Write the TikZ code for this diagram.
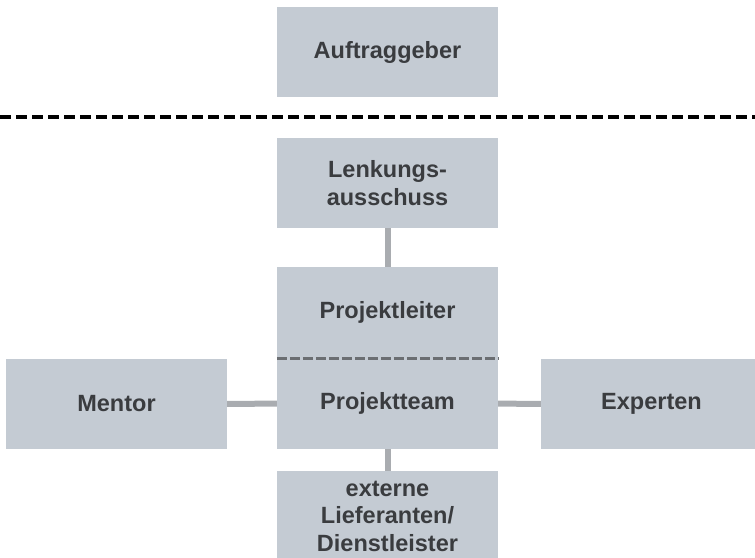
\documentclass[tikz,border=0pt]{standalone}
\usepackage{fontspec}
\setmainfont{Liberation Sans}
\definecolor{boxgray}{HTML}{C4CBD3}
\definecolor{textgray}{HTML}{3A3C3F}
\definecolor{linegray}{HTML}{A9ACB0}
\definecolor{dashgray}{HTML}{6B6E72}
\tikzset{
  box/.style={fill=boxgray, text=textgray, inner sep=0pt, minimum width=221pt,
    minimum height=90pt, text width=215pt, align=center,
    font=\bfseries\fontsize{23.5}{27.5}\selectfont},
  link/.style={draw=linegray, line width=6pt}
}
\begin{document}
\begin{tikzpicture}[x=1pt,y=-1pt]
  \useasboundingbox (0,0) rectangle (755,557);
  \begin{scope}
    \clip (0,0) rectangle (755,557);
    \node[box] (auftrag) at (387.5,52) {Auftraggeber};
    \node[box] (lenkung) at (387.5,183) {Lenkungs-\\ausschuss};
    \node[box, minimum height=91pt] (leiter) at (387.5,312.5) {Projektleiter};
    \node[box, minimum height=91pt] (team) at (387.5,403.5) {Projektteam};
    \node[box] (mentor) at (116.5,404) {Mentor};
    \node[box] (experten) at (651.5,404) {Experten};
    \node[box] (extern) at (387.5,516) {externe\\Lieferanten/\\Dienstleister};
  \end{scope}
  % Grenze Auftraggeber
  \draw[line width=3.5pt, dash pattern=on 11pt off 5pt] (0,117) -- (755,117);
  \draw[dashgray, line width=3pt, dash pattern=on 10pt off 3pt]
    (leiter.south west) -- (leiter.south east);
  \begin{scope}[link]
    \draw (lenkung) -- (leiter);
    \draw (mentor) -- (team);
    \draw (team) -- (experten);
    \draw (team) -- (extern);
  \end{scope}
\end{tikzpicture}
\end{document}
